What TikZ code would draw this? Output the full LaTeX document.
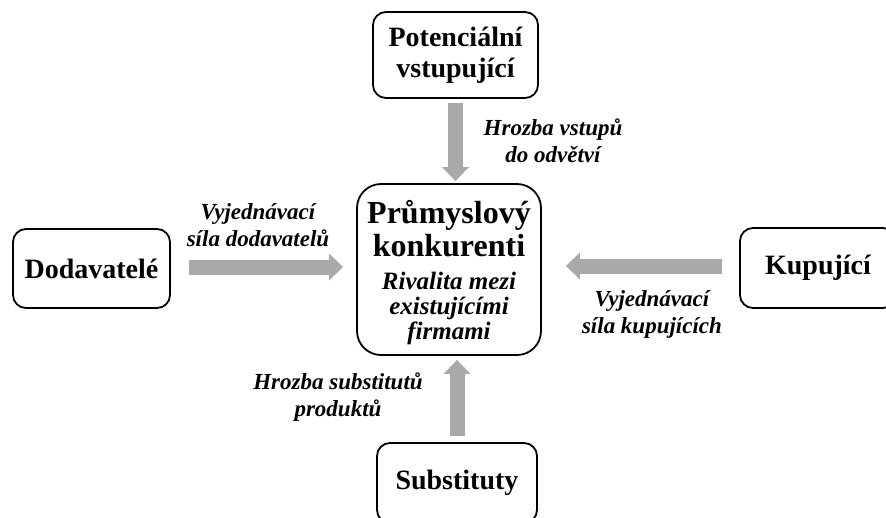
\documentclass[tikz,border=0pt]{standalone}
\usepackage{fontspec}
\setmainfont{Liberation Serif}
\usetikzlibrary{arrows.meta}
\definecolor{arrgray}{RGB}{170,168,168}
\tikzset{
  box/.style={draw=black, line width=1.8pt, rounded corners=13pt, fill=white, inner sep=0pt, align=center,
              font=\fontsize{28}{31}\selectfont\bfseries},
  lbl/.style={align=center, inner sep=0pt, font=\fontsize{23}{27}\selectfont\bfseries\itshape},
  fat/.style={draw=arrgray, line width=15pt, -{Triangle[width=26pt,length=14pt]}},
}
\begin{document}
\begin{tikzpicture}[x=1pt,y=-1pt]
\clip (0,0) rectangle (886,517);
\fill[white] (0,0) rectangle (886,517);
% boxes
\node[box, minimum width=165pt, minimum height=86pt] (pot) at (455.5,55) {Potenciální\\vstupující};
\node[box, minimum width=184pt, minimum height=171pt, rounded corners=24pt] (cen) at (449,269.5) {};
\node[box, minimum width=157pt, minimum height=79pt] (dod) at (91.5,268.5) {Dodavatelé};
\node[box, minimum width=156pt, minimum height=80pt] (kup) at (818,268) {Kupující};
\node[box, minimum width=160pt, minimum height=80pt] (sub) at (457,483) {Substituty};
% centre texts
\node[align=center, inner sep=0pt, font=\fontsize{32}{33}\selectfont\bfseries] (title) at (449,229) {Průmyslový\\konkurenti};
\node[lbl, font=\fontsize{25}{25}\selectfont\bfseries\itshape] (riv) at (449,308) {Rivalita mezi\\existujícími\\firmami};
% arrows
\draw[fat, shorten <=4pt, shorten >=2pt] (pot.south) -- (pot.south |- cen.north);
\draw[fat, shorten <=18pt, shorten >=13pt] ([yshift=1.5pt]dod.east) -- ([yshift=1.5pt]dod.east -| cen.west);
\draw[fat, shorten <=17pt, shorten >=24pt] ([yshift=2pt]kup.west) -- ([yshift=2pt]kup.west -| cen.east);
\draw[fat, shorten <=6pt, shorten >=4pt] (sub.north) -- (sub.north |- cen.south);
% labels
\node[lbl] (l1) at (553,141) {Hrozba vstupů\\do odvětví};
\node[lbl] (l2) at (258,225) {Vyjednávací\\síla dodavatelů};
\node[lbl] (l3) at (652,314) {Vyjednávací\\síla kupujících};
\node[lbl] (l4) at (338,397) {Hrozba substitutů\\produktů};
\end{tikzpicture}
\end{document}
